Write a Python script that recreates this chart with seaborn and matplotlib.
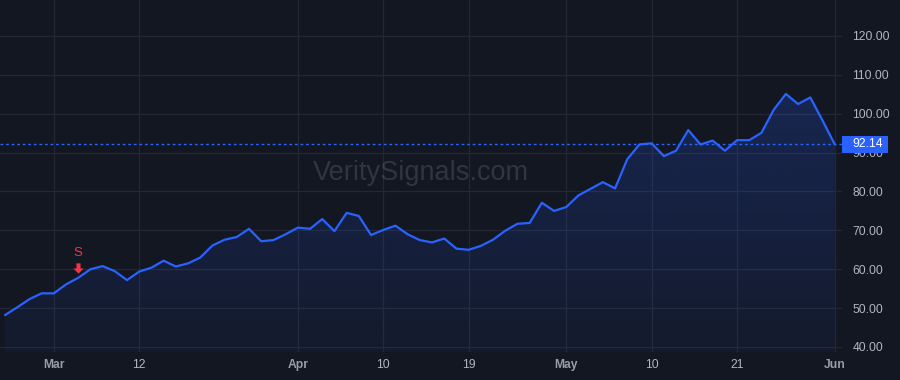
import numpy as np
import pandas as pd
import matplotlib
matplotlib.use("Agg")
import matplotlib.pyplot as plt
import matplotlib.transforms as mtransforms
from matplotlib.patches import PathPatch, Rectangle
from matplotlib.path import Path
import seaborn as sns

# ---- data -------------------------------------------------------------
holidays = ["2024-03-29", "2024-05-27"]
dates = [d for d in pd.bdate_range("2024-02-26", "2024-06-03")
         if d.strftime("%Y-%m-%d") not in holidays]

prices = [48.2, 50.2, 52.3, 53.8, 53.8, 56.1, 57.8, 60.0, 60.8, 59.5,
          57.2, 59.4, 60.4, 62.2, 60.7, 61.5, 63.0, 66.1, 67.6, 68.3,
          70.4, 67.2, 67.5, 69.0, 70.7, 70.4, 72.9, 69.8, 74.5, 73.7,
          68.8, 70.1, 71.2, 69.0, 67.5, 66.9, 67.9, 65.3, 65.0, 66.0,
          67.6, 69.9, 71.7, 71.9, 77.1, 75.0, 76.0, 79.0, 80.7, 82.4,
          80.8, 88.3, 92.1, 92.4, 89.1, 90.5, 95.8, 92.1, 93.1, 90.5,
          93.2, 93.2, 95.1, 101.0, 105.1, 102.5, 104.2, 98.3, 92.14]

last_price = 92.14
tick_dates = ["2024-03-01", "2024-03-12", "2024-04-01", "2024-04-10",
              "2024-04-19", "2024-05-01", "2024-05-10", "2024-05-21",
              "2024-06-03"]
tick_labels = ["Mar", "12", "Apr", "10", "19", "May", "10", "21", "Jun"]
month_labels = {"Mar", "Apr", "May", "Jun"}
y_ticks = [40, 50, 60, 70, 80, 90, 100, 110, 120]
signal_date = "2024-03-05"
signal_text = "S"
watermark = "VeritySignals.com"

# ---- style ------------------------------------------------------------
BG = "#131722"
GRID = "#232735"
LINE = "#2962FF"
TXT = "#b2b5be"
RED = "#f23645"

sns.set_theme(style="dark")
plt.rcParams["font.family"] = ["Liberation Sans", "DejaVu Sans"]

df = pd.DataFrame({"idx": np.arange(len(prices)), "price": prices})
date_strs = [d.strftime("%Y-%m-%d") for d in dates]

fig = plt.figure(figsize=(9, 3.8), dpi=100, facecolor=BG)
ax = fig.add_axes([0.0, 28 / 380, 842 / 900, 1 - 28 / 380])
ax.set_facecolor(BG)

ymin, ymax = 38.71, 129.26
xmin, xmax = -0.41, 68.6

# gradient area fill
poly = ax.fill_between(df["idx"], df["price"], ymin, color="none", lw=0)
path = poly.get_paths()[0]
grad = np.zeros((256, 2, 4))
rgb = matplotlib.colors.to_rgb(LINE)
grad[..., 0], grad[..., 1], grad[..., 2] = rgb
alphas = np.linspace(0.05, 0.27, 256)
grad[..., 3] = alphas[:, None]
im = ax.imshow(grad, extent=[xmin, xmax, ymin, ymax], origin="lower",
               aspect="auto", zorder=1, interpolation="bilinear")
clip = PathPatch(path, facecolor="none", edgecolor="none", transform=ax.transData)
ax.add_patch(clip)
im.set_clip_path(clip)

sns.lineplot(data=df, x="idx", y="price", ax=ax, color=LINE, lw=1.6, zorder=3)

ax.axhline(last_price, color=LINE, lw=1.0, ls=(0, (2, 2)), zorder=2)

ax.set_xlim(xmin, xmax)
ax.set_ylim(ymin, ymax)

# grid
tick_pos = [date_strs.index(t) for t in tick_dates]
for v in y_ticks:
    ax.axhline(v, color=GRID, lw=0.9, zorder=0)
for p in tick_pos:
    ax.axvline(p, color=GRID, lw=0.9, zorder=0)
ax.grid(False)

# axes ticks
ax.yaxis.tick_right()
ax.set_yticks(y_ticks)
ax.set_yticklabels([f"{v:.2f}" for v in y_ticks])
ax.tick_params(axis="y", length=0, pad=7.5, labelsize=8.7, labelcolor=TXT)
ax.set_xticks(tick_pos)
ax.set_xticklabels(tick_labels)
ax.tick_params(axis="x", length=0, pad=5, labelsize=8.7, labelcolor=TXT)
for lab in ax.get_xticklabels():
    if lab.get_text() in month_labels:
        lab.set_fontweight("bold")
        lab.set_color("#9a9da6")
ax.set_xlabel("")
ax.set_ylabel("")
for s in ax.spines.values():
    s.set_visible(False)

# last-price label
bt = mtransforms.blended_transform_factory(ax.transAxes, ax.transData)
ax.add_patch(Rectangle((1.0, last_price - 2.2), 46 / 842, 4.4, transform=bt,
                       facecolor=LINE, edgecolor="none", clip_on=False, zorder=5))
ax.text(1.0 + 10 / 842, last_price, f"{last_price:.2f}", transform=bt,
        color="white", fontsize=8.7, va="center", ha="left", zorder=6,
        clip_on=False)

# signal marker (down arrow + letter)
arrow = Path([(-0.2, 0.5), (0.2, 0.5), (0.2, 0.0), (0.5, 0.0), (0.0, -0.5),
              (-0.5, 0.0), (-0.2, 0.0), (-0.2, 0.5)],
             [Path.MOVETO] + [Path.LINETO] * 6 + [Path.CLOSEPOLY])
si = date_strs.index(signal_date)
ax.plot([si], [60.4], marker=arrow, markersize=7.4, color=RED, mew=0,
        linestyle="none", zorder=6)
ax.text(si, 64.1, signal_text, color=RED, fontsize=9.5, ha="center",
        va="center", zorder=6)

# watermark
ax.text(421 / 842, 1 - 173 / 352, watermark, transform=ax.transAxes,
        fontsize=19.5, color="#ffffff", alpha=0.13, ha="center", va="center",
        zorder=2)

fig.savefig("out.png", dpi=100, facecolor=BG)
